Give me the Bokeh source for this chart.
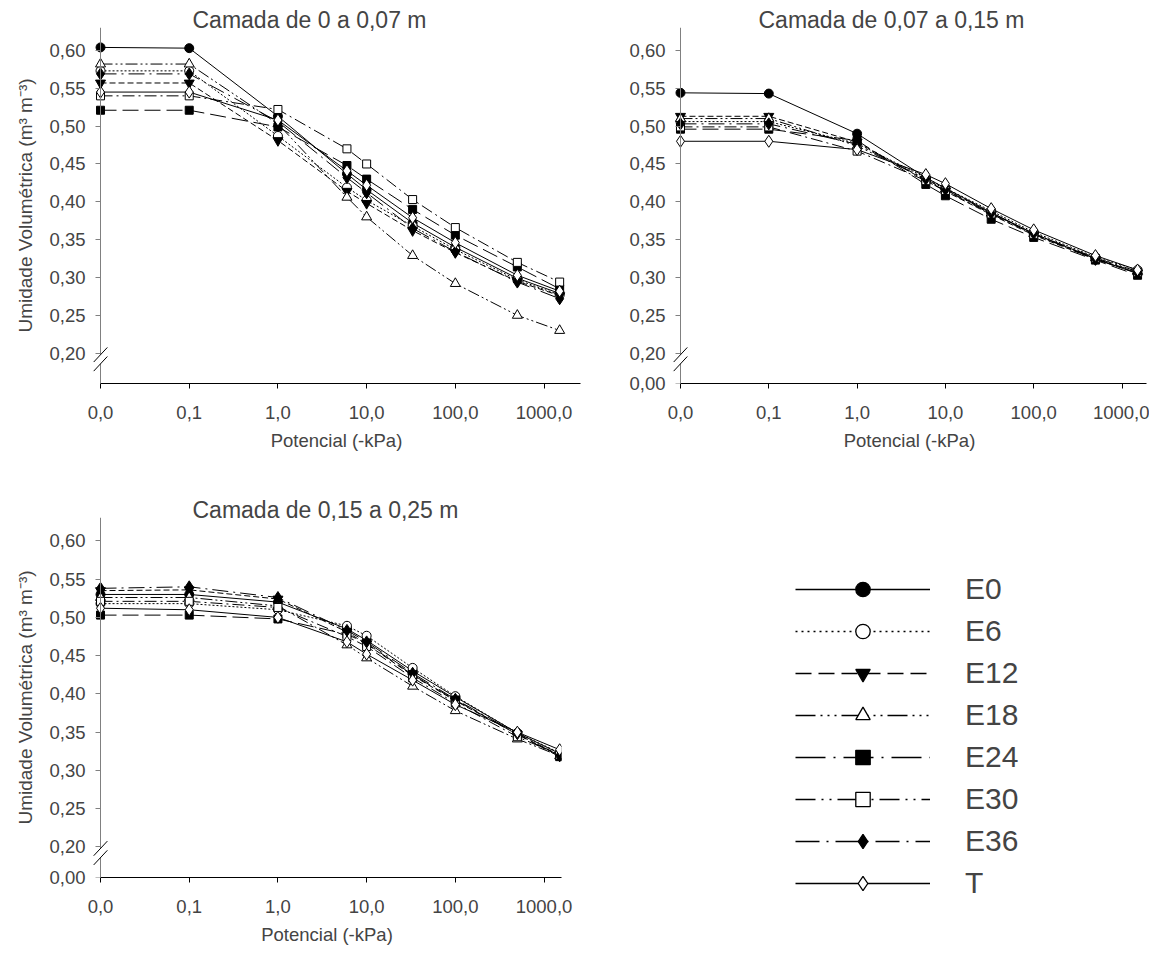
from bokeh.plotting import figure
from bokeh.models import FixedTicker, Range1d, Legend, LegendItem, LinearAxis, ColumnDataSource
from bokeh.layouts import column, row
from bokeh.embed import file_html
from bokeh.resources import INLINE

FONT = "Liberation Sans"

# ---------------- data ----------------
potentials = [0, 0.1, 1, 6, 10, 33, 100, 500, 1500]   # -kPa
X_ZERO_POS = 0.01          # where the "0,0" potential sits on the log axis

series = ["E0", "E6", "E12", "E18", "E24", "E30", "E36", "T"]

# Camada de 0 a 0,07 m
c1_E0  = [0.604, 0.603, 0.513, 0.437, 0.416, 0.372, 0.340, 0.299, 0.279]
c1_E6  = [0.573, 0.573, 0.487, 0.419, 0.402, 0.368, 0.337, 0.297, 0.277]
c1_E12 = [0.557, 0.557, 0.481, 0.414, 0.398, 0.362, 0.333, 0.295, 0.276]
c1_E18 = [0.582, 0.582, 0.503, 0.406, 0.380, 0.329, 0.292, 0.250, 0.230]
c1_E24 = [0.521, 0.521, 0.499, 0.448, 0.430, 0.390, 0.356, 0.314, 0.285]
c1_E30 = [0.540, 0.540, 0.522, 0.470, 0.450, 0.403, 0.366, 0.320, 0.294]
c1_E36 = [0.569, 0.569, 0.506, 0.432, 0.412, 0.365, 0.334, 0.294, 0.272]
c1_T   = [0.545, 0.545, 0.508, 0.441, 0.422, 0.379, 0.346, 0.303, 0.282]

# Camada de 0,07 a 0,15 m
c2_E0  = [0.544, 0.543, 0.490, 0.432, 0.418, 0.386, 0.358, 0.325, 0.305]
c2_E6  = [0.506, 0.506, 0.477, 0.432, 0.418, 0.388, 0.360, 0.327, 0.310]
c2_E12 = [0.513, 0.513, 0.479, 0.428, 0.414, 0.383, 0.356, 0.324, 0.306]
c2_E18 = [0.510, 0.510, 0.474, 0.430, 0.417, 0.385, 0.358, 0.326, 0.308]
c2_E24 = [0.496, 0.496, 0.481, 0.423, 0.408, 0.377, 0.353, 0.323, 0.303]
c2_E30 = [0.499, 0.499, 0.467, 0.428, 0.415, 0.384, 0.357, 0.325, 0.307]
c2_E36 = [0.503, 0.503, 0.476, 0.430, 0.416, 0.385, 0.358, 0.324, 0.306]
c2_T   = [0.480, 0.480, 0.469, 0.436, 0.424, 0.391, 0.363, 0.329, 0.310]

# Camada de 0,15 a 0,25 m
c3_E0  = [0.530, 0.530, 0.520, 0.485, 0.470, 0.430, 0.396, 0.349, 0.322]
c3_E6  = [0.518, 0.518, 0.510, 0.489, 0.476, 0.434, 0.397, 0.349, 0.323]
c3_E12 = [0.535, 0.536, 0.524, 0.481, 0.465, 0.424, 0.391, 0.347, 0.320]
c3_E18 = [0.526, 0.526, 0.515, 0.464, 0.447, 0.410, 0.378, 0.341, 0.319]
c3_E24 = [0.503, 0.503, 0.498, 0.478, 0.466, 0.425, 0.392, 0.347, 0.318]
c3_E30 = [0.521, 0.521, 0.513, 0.475, 0.462, 0.421, 0.388, 0.344, 0.320]
c3_E36 = [0.538, 0.540, 0.526, 0.483, 0.468, 0.427, 0.393, 0.348, 0.319]
c3_T   = [0.512, 0.510, 0.500, 0.468, 0.452, 0.418, 0.386, 0.350, 0.327]

titles = ["Camada de 0 a 0,07 m", "Camada de 0,07 a 0,15 m", "Camada de 0,15 a 0,25 m"]

x_ticks = [0.01, 0.1, 1, 10, 100, 1000]
x_tick_labels = ["0,0", "0,1", "1,0", "10,0", "100,0", "1000,0"]
y_ticks = [0.20, 0.25, 0.30, 0.35, 0.40, 0.45, 0.50, 0.55, 0.60]
y_tick_labels = ["0,20", "0,25", "0,30", "0,35", "0,40", "0,45", "0,50", "0,55", "0,60"]
Y_ZERO_POS = 0.16          # where "0,00" sits below the axis break
zero_label = "0,00"
BREAK_Y = 0.192            # centre of the "//" axis-break sign

x_label = "Potencial (-kPa)"
y_label = "Umidade Volumétrica (m³ m⁻³)"

# ---------------- styles ----------------
style = {
    "E0":  dict(marker="circle", fill="black", dash="solid", size=9, ldash="solid"),
    "E6":  dict(marker="circle", fill="white", dash="2 2", size=9, ldash="2 4"),
    "E12": dict(marker="inverted_triangle", fill="black", dash="6 3", size=10, ldash="16 7"),
    "E18": dict(marker="triangle", fill="white", dash="12 3 2 3 2 3", size=10,
                ldash="20 5 2 5 2 5 2 5"),
    "E24": dict(marker="square", fill="black", dash="16 6", size=8, ldash="30 8 2 8"),
    "E30": dict(marker="square", fill="white", dash="12 4 2 4", size=8, ldash="20 6 2 6 2 6"),
    "E36": dict(marker="diamond", fill="black", dash="16 5 2 5", size=12, ldash="24 7 2 7"),
    "T":   dict(marker="diamond", fill="white", dash="solid", size=12, ldash="solid"),
}

X_START = 0.00812          # frame starts a few px left of the "0,0" position


def make_panel(title, values, width, height, mb_left, mb_right, mb_top, mb_bottom,
               x_end, y_end, show_ylabel, zero_tick, title_offset):
    p = figure(width=width, height=height, x_axis_type="log",
               x_range=Range1d(X_START, x_end), y_range=Range1d(Y_ZERO_POS, y_end),
               output_backend="svg", toolbar_location=None,
               min_border_left=mb_left, min_border_right=mb_right,
               min_border_top=mb_top, min_border_bottom=mb_bottom,
               title=title)
    p.outline_line_color = None
    p.grid.visible = False

    p.title.text_font = FONT
    p.title.text_font_size = "23px"
    p.title.text_font_style = "normal"
    p.title.align = "left"
    p.title.offset = title_offset
    p.title.standoff = -10

    xs = [X_ZERO_POS if v == 0 else v for v in potentials]

    # x axis
    xa = p.xaxis[0]
    xa.ticker = FixedTicker(ticks=x_ticks, minor_ticks=[])
    xa.major_label_overrides = dict(zip(x_ticks, x_tick_labels))
    xa.bounds = (X_ZERO_POS, x_end)
    xa.axis_line_color = "black"
    xa.major_tick_line_color = "black"
    xa.major_tick_out = 5
    xa.major_tick_in = 0
    xa.minor_tick_line_color = None
    xa.major_label_text_font = FONT
    xa.major_label_text_font_size = "18.5px"
    xa.major_label_standoff = 17
    xa.axis_label = x_label
    xa.axis_label_text_font = FONT
    xa.axis_label_text_font_size = "18.5px"
    xa.axis_label_text_font_style = "normal"
    xa.axis_label_standoff = 8

    # y axis: labels on the main axis, line + ticks on an axis pinned at "0,0"
    yt = list(y_ticks)
    yl = list(y_tick_labels)
    if zero_tick:
        yt = [Y_ZERO_POS] + yt
        yl = [zero_label] + yl
    ya = p.yaxis[0]
    ya.ticker = FixedTicker(ticks=yt, minor_ticks=[])
    ya.major_label_overrides = dict(zip(yt, yl))
    ya.axis_line_color = None
    ya.major_tick_line_color = None
    ya.major_tick_out = 0
    ya.major_tick_in = 0
    ya.minor_tick_line_color = None
    ya.major_label_text_font = FONT
    ya.major_label_text_font_size = "18.5px"
    ya.major_label_standoff = 7
    if show_ylabel:
        ya.axis_label = y_label
        ya.axis_label_text_font = FONT
        ya.axis_label_text_font_size = "19px"
        ya.axis_label_text_font_style = "normal"
        ya.axis_label_standoff = 10

    yline = LinearAxis(fixed_location=X_ZERO_POS, ticker=FixedTicker(ticks=yt, minor_ticks=[]),
                       axis_line_color="#808080", major_tick_line_color="#808080",
                       major_tick_out=5, major_tick_in=0, minor_tick_line_color=None,
                       major_label_overrides={t: "" for t in yt}, major_label_standoff=0)
    p.add_layout(yline, "left")

    for name, ys in zip(series, values):
        st = style[name]
        p.line(xs, ys, line_color="black", line_width=1, line_dash=st["dash"])
    for name, ys in zip(series, values):
        st = style[name]
        p.scatter(xs, ys, marker=st["marker"], size=st["size"],
                  fill_color=st["fill"], line_color="black", line_width=1)

    # axis break sign "//"
    p.scatter([X_ZERO_POS], [BREAK_Y], marker="square", size=9, fill_color="white",
              line_color=None, level="overlay")
    p.scatter([X_ZERO_POS, X_ZERO_POS], [BREAK_Y + 0.006, BREAK_Y - 0.006], marker="dash",
              size=20, angle=0.82, line_color="black", line_width=1, level="overlay")
    return p


v1 = [c1_E0, c1_E6, c1_E12, c1_E18, c1_E24, c1_E30, c1_E36, c1_T]
v2 = [c2_E0, c2_E6, c2_E12, c2_E18, c2_E24, c2_E30, c2_E36, c2_T]
v3 = [c3_E0, c3_E6, c3_E12, c3_E18, c3_E24, c3_E30, c3_E36, c3_T]

p1 = make_panel(titles[0], v1, 598, 490, 92, 18, 27, 107, 2577, 0.6303, True, False, 100)
p2 = make_panel(titles[1], v2, 551, 490, 74, 3, 27, 107, 1893, 0.6303, False, True, 86)
p3 = make_panel(titles[2], v3, 1149, 464, 92, 569, 27, 77, 1573, 0.6306, True, True, 100)

# legend keys (styled like the original key; no visible data of their own)
nan = float("nan")
items = []
for name in series:
    st = style[name]
    src = ColumnDataSource(data=dict(x=[nan], y=[nan]))
    lr = p3.line("x", "y", source=src, line_color="black", line_width=1.5, line_dash=st["ldash"])
    mr = p3.scatter("x", "y", source=src, marker=st["marker"], fill_color=st["fill"],
                    line_color="black", line_width=1.3)
    items.append(LegendItem(label=name, renderers=[lr, mr]))

legend = Legend(items=items, location=(234, -24), glyph_width=135, glyph_height=36,
                label_height=36, spacing=6, label_standoff=35,
                label_text_font=FONT, label_text_font_size="30px",
                padding=0, margin=0, border_line_color=None, background_fill_alpha=0)
p3.add_layout(legend, "right")

layout = column(row(p1, p2), p3)

open("out.html", "w").write(file_html(layout, INLINE))
